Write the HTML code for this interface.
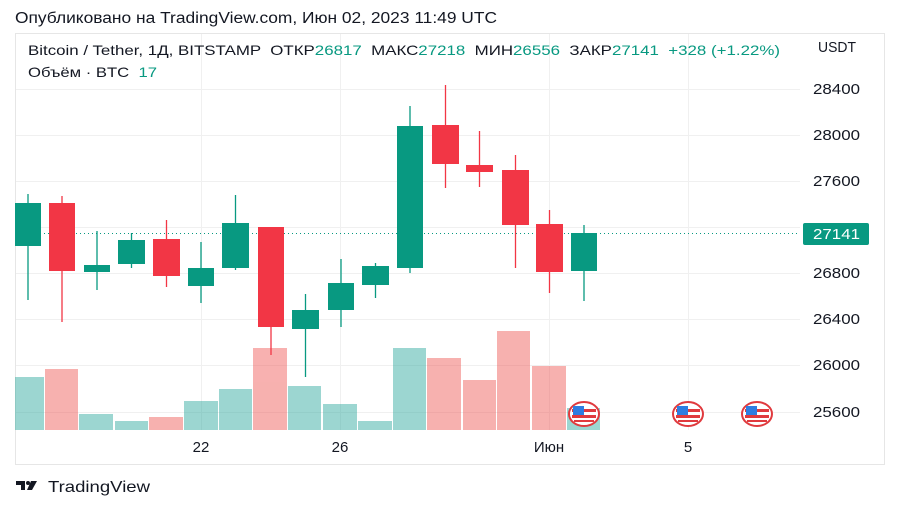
<!DOCTYPE html>
<html><head><meta charset="utf-8"><style>
body{margin:0;background:#fff;width:900px;height:506px;overflow:hidden}
svg{display:block}
text{font-family:"Liberation Sans",sans-serif;white-space:pre}
</style></head><body>
<svg width="900" height="506" viewBox="0 0 900 506">
<text x="15" y="23" font-size="15.5" fill="#131722" textLength="482" lengthAdjust="spacingAndGlyphs">Опубликовано на TradingView.com, Июн 02, 2023 11:49 UTC</text>
<rect x="15.5" y="33.5" width="869" height="431" fill="#fff" stroke="#e6e6e6"/>
<g stroke="#f0f0f0" stroke-width="1">
<line x1="16" x2="800" y1="89.5" y2="89.5"/><line x1="16" x2="800" y1="135.5" y2="135.5"/>
<line x1="16" x2="800" y1="181.5" y2="181.5"/><line x1="16" x2="800" y1="227.5" y2="227.5"/>
<line x1="16" x2="800" y1="273.5" y2="273.5"/><line x1="16" x2="800" y1="319.5" y2="319.5"/>
<line x1="16" x2="800" y1="365.5" y2="365.5"/><line x1="16" x2="800" y1="412.5" y2="412.5"/>
<line x1="201.5" x2="201.5" y1="34" y2="430"/><line x1="340.5" x2="340.5" y1="34" y2="430"/>
<line x1="549.5" x2="549.5" y1="34" y2="430"/><line x1="688.5" x2="688.5" y1="34" y2="430"/>
</g>
<g opacity="0.45">
<rect x="15" y="377" width="29" height="53" fill="#26a69a"/>
<rect x="45" y="369" width="33" height="61" fill="#ef5350"/>
<rect x="79" y="414" width="34" height="16" fill="#26a69a"/>
<rect x="115" y="421" width="33" height="9" fill="#26a69a"/>
<rect x="149" y="417" width="34" height="13" fill="#ef5350"/>
<rect x="184" y="401" width="34" height="29" fill="#26a69a"/>
<rect x="219" y="389" width="33" height="41" fill="#26a69a"/>
<rect x="253" y="348" width="34" height="82" fill="#ef5350"/>
<rect x="288" y="386" width="33" height="44" fill="#26a69a"/>
<rect x="323" y="404" width="34" height="26" fill="#26a69a"/>
<rect x="358" y="421" width="34" height="9" fill="#26a69a"/>
<rect x="393" y="348" width="33" height="82" fill="#26a69a"/>
<rect x="427" y="358" width="34" height="72" fill="#ef5350"/>
<rect x="463" y="380" width="33" height="50" fill="#ef5350"/>
<rect x="497" y="331" width="33" height="99" fill="#ef5350"/>
<rect x="532" y="366" width="34" height="64" fill="#ef5350"/>
<rect x="567" y="408" width="33" height="22" fill="#26a69a"/>
</g>
<line x1="16" x2="800" y1="233.5" y2="233.5" stroke="#089981" stroke-dasharray="1,3"/>
<g stroke-width="1.3">
<g fill="#089981" stroke="#089981">
<line x1="28" x2="28" y1="194" y2="300"/><rect x="15" y="203" width="26" height="43" stroke="none"/>
<line x1="97" x2="97" y1="231" y2="290"/><rect x="84" y="265" width="26" height="7" stroke="none"/>
<line x1="131.5" x2="131.5" y1="233" y2="268"/><rect x="118" y="240" width="27" height="24" stroke="none"/>
<line x1="201" x2="201" y1="242" y2="303"/><rect x="188" y="268" width="26" height="18" stroke="none"/>
<line x1="235.5" x2="235.5" y1="195" y2="270"/><rect x="222" y="223" width="27" height="45" stroke="none"/>
<line x1="305.5" x2="305.5" y1="294" y2="377"/><rect x="292" y="310" width="27" height="19" stroke="none"/>
<line x1="341" x2="341" y1="259" y2="327"/><rect x="328" y="283" width="26" height="27" stroke="none"/>
<line x1="375.5" x2="375.5" y1="263" y2="298"/><rect x="362" y="266" width="27" height="19" stroke="none"/>
<line x1="410" x2="410" y1="106" y2="273"/><rect x="397" y="126" width="26" height="142" stroke="none"/>
<line x1="584" x2="584" y1="225" y2="301"/><rect x="571" y="233" width="26" height="38" stroke="none"/>
</g>
<g fill="#f23645" stroke="#f23645">
<line x1="62" x2="62" y1="196" y2="322"/><rect x="49" y="203" width="26" height="68" stroke="none"/>
<line x1="166.5" x2="166.5" y1="220" y2="287"/><rect x="153" y="239" width="27" height="37" stroke="none"/>
<line x1="271" x2="271" y1="227" y2="355"/><rect x="258" y="227" width="26" height="100" stroke="none"/>
<line x1="445.5" x2="445.5" y1="85" y2="188"/><rect x="432" y="125" width="27" height="39" stroke="none"/>
<line x1="479.5" x2="479.5" y1="131" y2="187"/><rect x="466" y="165" width="27" height="7" stroke="none"/>
<line x1="515.5" x2="515.5" y1="155" y2="268"/><rect x="502" y="170" width="27" height="55" stroke="none"/>
<line x1="549.5" x2="549.5" y1="210" y2="293"/><rect x="536" y="224" width="27" height="48" stroke="none"/>
</g>
</g>
<g font-size="15" fill="#131722">
<text x="818" y="52" textLength="38" lengthAdjust="spacingAndGlyphs">USDT</text>
<text x="813" y="94" textLength="47" lengthAdjust="spacingAndGlyphs">28400</text><text x="813" y="140" textLength="47" lengthAdjust="spacingAndGlyphs">28000</text><text x="813" y="186" textLength="47" lengthAdjust="spacingAndGlyphs">27600</text>
<text x="813" y="278" textLength="47" lengthAdjust="spacingAndGlyphs">26800</text><text x="813" y="324" textLength="47" lengthAdjust="spacingAndGlyphs">26400</text>
<text x="813" y="370" textLength="47" lengthAdjust="spacingAndGlyphs">26000</text><text x="813" y="417" textLength="47" lengthAdjust="spacingAndGlyphs">25600</text>
</g>
<rect x="803" y="223" width="66" height="22" rx="2" fill="#089981"/>
<text x="813" y="239" font-size="15" fill="#fff" textLength="47" lengthAdjust="spacingAndGlyphs">27141</text>
<g font-size="15" fill="#131722" text-anchor="middle">
<text x="201" y="452">22</text><text x="340" y="452">26</text><text x="549" y="452">Июн</text><text x="688" y="452">5</text>
</g>
<g font-size="14">
<text x="28" y="55" fill="#131722" textLength="752" lengthAdjust="spacingAndGlyphs">Bitcoin / Tether, 1Д, BITSTAMP  ОТКР<tspan fill="#089981">26817</tspan>  МАКС<tspan fill="#089981">27218</tspan>  МИН<tspan fill="#089981">26556</tspan>  ЗАКР<tspan fill="#089981">27141</tspan>  <tspan fill="#089981">+328 (+1.22%)</tspan></text>
<text x="28" y="77" fill="#131722" textLength="129" lengthAdjust="spacingAndGlyphs">Объём · BTC  <tspan fill="#089981">17</tspan></text>
</g>
<g id="f">
<ellipse cx="584" cy="414" rx="15" ry="12" fill="#fff" stroke="#e03a3e" stroke-width="2"/>
<rect x="572" y="409" width="24" height="3" fill="#e03a3e"/><rect x="572" y="415" width="24" height="3" fill="#e03a3e"/><rect x="574" y="420" width="20" height="2" fill="#e03a3e"/>
<rect x="573" y="406" width="11" height="9" fill="#2e7de1"/>
</g>
<use href="#f" x="104"/><use href="#f" x="173"/>
<g fill="#131722">
<path d="M16 481h9v9h-4v-5h-5z"/><circle cx="28" cy="483" r="2"/><path d="M31 481h6l-5 9h-5z"/>
</g>
<text x="48" y="492" font-size="16" fill="#131722" textLength="102" lengthAdjust="spacingAndGlyphs">TradingView</text>
</svg>
</body></html>
